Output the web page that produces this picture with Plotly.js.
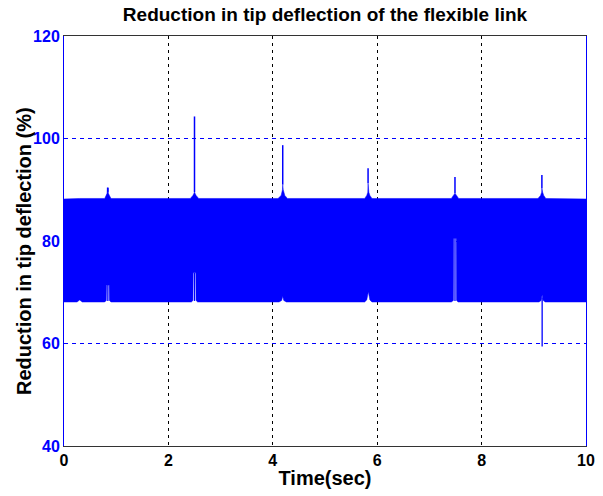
<!DOCTYPE html>
<html>
<head>
<meta charset="utf-8">
<script src="https://cdn.plot.ly/plotly-3.0.1.min.js"></script>
<style>html,body{margin:0;padding:0;background:#fff;}#chart{width:603px;height:496px;}</style>
</head>
<body>
<div id="chart"></div>
<script>
// Upper envelope of the dense oscillation (time s, reduction %)
const upperT = [0, 0.30, 0.78, 0.81, 0.825, 0.83, 0.838, 0.845, 0.85, 0.87, 0.90,
                2.42, 2.47, 2.50, 2.53, 2.58,
                4.10, 4.16, 4.185, 4.19, 4.20, 4.23, 4.28,
                5.76, 5.80, 5.82, 5.825, 5.84, 5.86, 5.90,
                7.42, 7.46, 7.49, 7.52, 7.56,
                9.08, 9.13, 9.15, 9.155, 9.17, 9.19, 9.23, 10];
const upperV = [88.2, 88.3, 88.3, 88.9, 89.3, 90.4, 89.6, 90.4, 89.3, 88.9, 88.3,
                88.3, 88.9, 89.5, 88.9, 88.3,
                88.3, 88.9, 90.0, 91.0, 90.0, 88.9, 88.3,
                88.3, 88.9, 89.5, 91.3, 89.5, 88.9, 88.3,
                88.3, 88.9, 89.3, 88.9, 88.3,
                88.3, 88.9, 89.5, 90.3, 89.5, 88.9, 88.3, 88.2];
// Lower envelope
const lowerT = [0, 0.25, 0.30, 0.35, 0.78, 0.81, 0.815, 0.865, 0.87, 0.90,
                2.44, 2.47, 2.475, 2.525, 2.53, 2.56,
                4.12, 4.17, 4.19, 4.21, 4.26,
                5.76, 5.80, 5.83, 5.86, 5.90,
                7.42, 7.46, 7.465, 7.515, 7.52, 7.55,
                9.10, 9.14, 9.16, 9.18, 9.22, 10];
const lowerV = [68.1, 68.1, 68.5, 68.1, 68.1, 68.4, 71.4, 71.4, 68.4, 68.1,
                68.1, 68.4, 73.8, 73.8, 68.4, 68.1,
                68.1, 68.4, 69.2, 68.4, 68.1,
                68.1, 68.5, 70.1, 68.5, 68.1,
                68.1, 68.4, 80.5, 80.5, 68.4, 68.1,
                68.1, 68.4, 69.5, 68.4, 68.1, 68.1];
// Narrow spikes above the band
const spikeT    = [0.838, 2.50, 4.19, 5.825, 7.49, 9.155];
const spikeBase = [89.6, 89.5, 91.0, 91.3, 89.3, 90.3];
const spikeTop  = [90.4, 104.3, 98.7, 94.2, 92.5, 92.9];
// Spikes inside the lower notches / below the band
const lowSpikeT    = [0.84, 2.50, 7.49, 9.16];
const lowSpikeFrom = [68.3, 68.3, 68.3, 69.0];
const lowSpikeTo   = [71.4, 73.8, 80.5, 59.4];

const bandX = upperT.concat(lowerT.slice().reverse());
const bandY = upperV.concat(lowerV.slice().reverse());

function segs(ts, a, b) {
  const x = [], y = [];
  ts.forEach((t, i) => { x.push(t, t, null); y.push(a[i], b[i], null); });
  return {x, y};
}
const up = segs(spikeT, spikeBase, spikeTop);
const lo = segs(lowSpikeT, lowSpikeFrom, lowSpikeTo);

const blue = '#0000ff';
const traces = [
  {x: bandX, y: bandY, type: 'scatter', mode: 'lines', fill: 'toself',
   fillcolor: blue, line: {color: blue, width: 0.5}, hoverinfo: 'skip'},
  {x: up.x, y: up.y, type: 'scatter', mode: 'lines', line: {color: blue, width: 1.5}, connectgaps: false},
  {x: lo.x, y: lo.y, type: 'scatter', mode: 'lines', line: {color: blue, width: 1.3}, connectgaps: false}
];

const fam = '"Liberation Sans", Arial, sans-serif';
const layout = {
  width: 603, height: 496,
  margin: {l: 64, r: 17, t: 36, b: 50},
  paper_bgcolor: '#fff', plot_bgcolor: '#fff',
  showlegend: false,
  font: {family: fam},
  title: {text: 'Reduction in tip deflection of the flexible link',
          font: {family: fam, size: 19, color: '#000', weight: 'bold'},
          x: 0.539, xanchor: 'center', y: 0.972, yanchor: 'middle'},
  xaxis: {range: [0, 10], tickvals: [0, 2, 4, 6, 8, 10], ticktext: ['0','2','4','6','8','10'],
          showgrid: true, gridcolor: '#000', griddash: '3px,4px', gridwidth: 1,
          zeroline: false, showline: true, mirror: true, linecolor: '#333', linewidth: 1,
          ticks: '', tickfont: {family: fam, size: 16, color: '#000', weight: 'bold'},
          title: {text: 'Time(sec)', font: {family: fam, size: 20, color: '#000', weight: 'bold'}, standoff: 2}},
  yaxis: {range: [40, 120], tickvals: [40, 60, 80, 100, 120], ticktext: ['40','60','80','100','120'],
          showgrid: true, gridcolor: blue, griddash: '4px,4px', gridwidth: 1,
          zeroline: false, showline: true, mirror: true, linecolor: blue, linewidth: 1,
          ticks: '', tickfont: {family: fam, size: 16, color: blue, weight: 'bold'}},
  annotations: [{text: 'Reduction in tip deflection (%)', xref: 'paper', yref: 'paper',
                 x: -0.077, y: 0.475, xanchor: 'center', yanchor: 'middle', textangle: -90,
                 showarrow: false, font: {family: fam, size: 20, color: '#000', weight: 'bold'}}]
};

Plotly.newPlot('chart', traces, layout, {displayModeBar: false, staticPlot: true});
</script>
</body>
</html>
